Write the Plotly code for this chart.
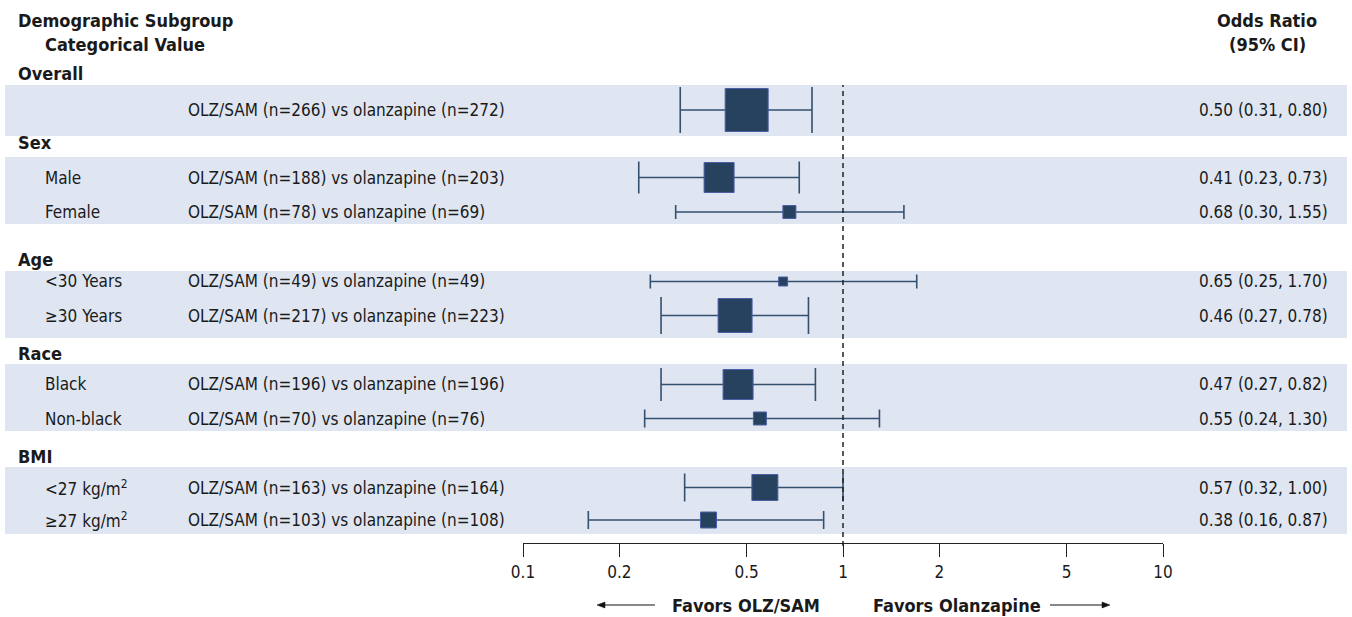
import plotly.graph_objects as go

# ---------------- data ----------------
groups = ["Overall", "Sex", "Age", "Race", "BMI"]
subgroups = ["", "Male", "Female", "<30 Years", "≥30 Years", "Black", "Non-black",
             "<27 kg/m<sup>2</sup>", "≥27 kg/m<sup>2</sup>"]
n_olz_sam = [266, 188, 78, 49, 217, 196, 70, 163, 103]
n_olanzapine = [272, 203, 69, 49, 223, 196, 76, 164, 108]
odds_ratio = [0.50, 0.41, 0.68, 0.65, 0.46, 0.47, 0.55, 0.57, 0.38]
ci_low = [0.31, 0.23, 0.30, 0.25, 0.27, 0.27, 0.24, 0.32, 0.16]
ci_high = [0.80, 0.73, 1.55, 1.70, 0.78, 0.82, 1.30, 1.00, 0.87]
tick_vals = [0.1, 0.2, 0.5, 1, 2, 5, 10]
tick_text = ["0.1", "0.2", "0.5", "1", "2", "5", "10"]

# ---------------- layout (pixel units, from top) ----------------
W, H = 1352, 617
row_y = [110, 177.5, 212, 281.5, 315.5, 384.5, 418.5, 487.5, 520]
group_y = [73, 143, 259, 353, 456]
band_y = [(85, 136), (157, 224), (271, 338), (364, 431), (467, 534)]
box_px = [43, 30, 13, 9, 34, 30, 13, 26, 16]
cap_px = [23, 16, 7, 7, 18.5, 16.5, 9, 14, 9]
axis_y = 543

FONT = "DejaVu Sans Condensed, Liberation Sans Narrow, sans-serif"
TXT = "#1a1a1a"
BAND = "#dfe6f2"
BOX = "#27425f"
BOXLINE = "#4b5ea6"
WHISK = "#34506f"

def py(p):
    return 1 - p / H

fig = go.Figure()

shapes = []
for (a, b) in band_y:
    shapes.append(dict(type="rect", xref="paper", yref="paper", x0=5 / W, x1=1347 / W,
                       y0=py(b), y1=py(a), fillcolor=BAND, line=dict(width=0), layer="below"))
# reference line at OR = 1
shapes.append(dict(type="line", xref="x", yref="paper", x0=1, x1=1, y0=py(546), y1=py(85),
                   line=dict(color="#222", width=1.5, dash="5px,4px"), layer="above"))

# direction arrows
AY = 605
for x_tip, x_tail in [(597, 655), (1110, 1050)]:
    d = 1 if x_tail > x_tip else -1
    shapes.append(dict(type="line", xref="paper", yref="paper",
                       x0=(x_tip + d * 6) / W, x1=x_tail / W, y0=py(AY), y1=py(AY),
                       line=dict(color="#111", width=1)))
    shapes.append(dict(type="path", xref="paper", yref="paper",
                       path=f"M {x_tip / W} {py(AY)} L {(x_tip + d * 8) / W} {py(AY - 3)} "
                            f"L {(x_tip + d * 8) / W} {py(AY + 3)} Z",
                       fillcolor="#111", line=dict(color="#111", width=0.5)))

for i in range(len(odds_ratio)):
    fig.add_trace(go.Scatter(
        x=[odds_ratio[i]], y=[row_y[i]], mode="markers",
        marker=dict(symbol="square", size=box_px[i], color=BOX,
                    line=dict(color=BOXLINE, width=1)),
        error_x=dict(type="data", symmetric=False,
                     array=[ci_high[i] - odds_ratio[i]],
                     arrayminus=[odds_ratio[i] - ci_low[i]],
                     width=cap_px[i], thickness=1.6, color=WHISK),
        showlegend=False, hoverinfo="skip", cliponaxis=False))

ann = []
def text(x, y, s, size=17, bold=False, anchor="left"):
    if bold:
        s = "<b>" + s + "</b>"
    ann.append(dict(xref="paper", yref="paper", x=x / W, y=py(y), text=s, showarrow=False,
                    xanchor=anchor, yanchor="middle",
                    font=dict(family=FONT, size=size, color=TXT)))

text(125, 20, "Demographic Subgroup", 18, True, "center")
text(125, 44, "Categorical Value", 18, True, "center")
text(1267, 20, "Odds Ratio", 18, True, "center")
text(1267, 44, "(95% CI)", 18, True, "center")

for g, y in zip(groups, group_y):
    text(16, y, g, 18, True)

for i in range(len(odds_ratio)):
    if subgroups[i]:
        text(43, row_y[i], subgroups[i])
    text(186, row_y[i], f"OLZ/SAM (n={n_olz_sam[i]}) vs olanzapine (n={n_olanzapine[i]})")
    text(1330, row_y[i], f"{odds_ratio[i]:.2f} ({ci_low[i]:.2f}, {ci_high[i]:.2f})", anchor="right")

text(822, AY, "Favors OLZ/SAM", 18, True, "right")
text(871, AY, "Favors Olanzapine", 18, True, "left")

fig.update_layout(
    width=W, height=H, autosize=False, margin=dict(l=0, r=0, t=0, b=0, pad=0),
    plot_bgcolor="rgba(0,0,0,0)", paper_bgcolor="white",
    shapes=shapes, annotations=ann, showlegend=False,
    xaxis=dict(type="log", range=[-1, 1], domain=[523 / W, 1163 / W],
               anchor="free", position=py(axis_y), automargin=False,
               showline=True, linecolor="#222", linewidth=1.2,
               ticks="outside", ticklen=13, tickwidth=1.2, tickcolor="#222",
               tickvals=tick_vals, ticktext=tick_text,
               tickfont=dict(family=FONT, size=17, color=TXT),
               showgrid=False, zeroline=False, fixedrange=True),
    yaxis=dict(range=[H, 0], domain=[0, 1], visible=False, fixedrange=True, automargin=False),
)

fig.write_html("out.html",
               config={"displayModeBar": False, "responsive": False},
               post_script="document.body.style.margin='0';document.body.style.overflow='hidden';")
